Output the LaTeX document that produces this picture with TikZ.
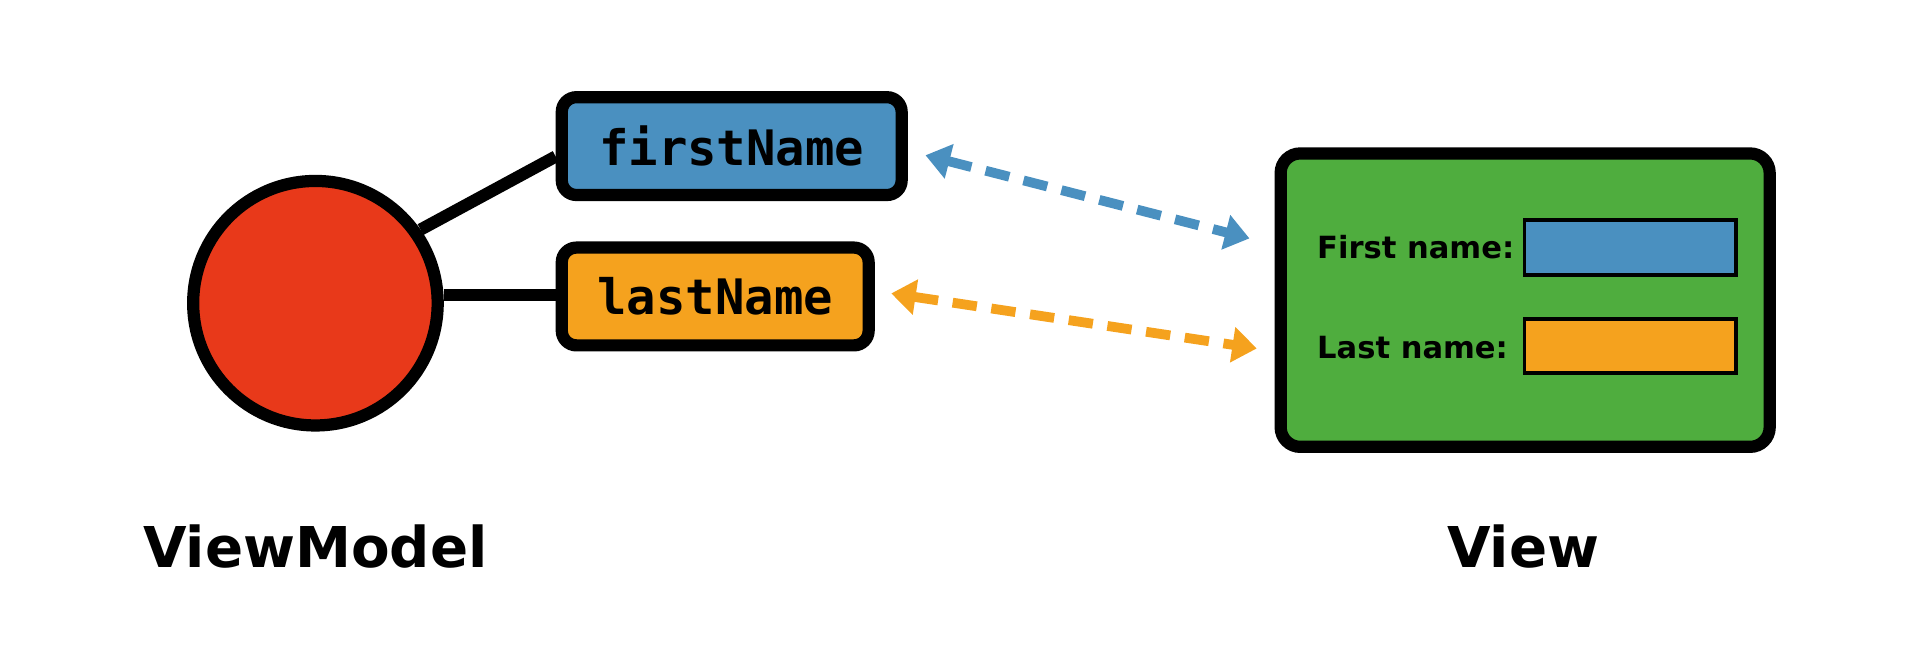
\documentclass[tikz,border=0pt]{standalone}
\usepackage{fontspec}
\setmainfont{DejaVu Sans}
\setmonofont{DejaVu Sans Mono}
\usetikzlibrary{arrows.meta}
\definecolor{cred}{HTML}{E8391A}
\definecolor{cblue}{HTML}{4A90C0}
\definecolor{corange}{HTML}{F5A21E}
\definecolor{cgreen}{HTML}{4FAD3E}
\tikzset{
  varbox/.style={draw=black,line width=5pt,rounded corners=6pt,inner sep=0pt,font=\ttfamily\bfseries\fontsize{20}{20}\selectfont},
  fieldbox/.style={draw=black,line width=1.5pt,inner sep=0pt},
  lbl/.style={font=\bfseries\fontsize{12.5}{13}\selectfont,anchor=west,inner sep=0pt},
  big/.style={font=\bfseries\fontsize{23}{24}\selectfont,inner sep=0pt},
  bind/.style={line width=4pt,dash pattern=on 10pt off 6pt,{Triangle[length=10pt,width=14pt]}-{Triangle[length=10pt,width=14pt]}},
  link/.style={line width=5pt}
}
\begin{document}
\begin{tikzpicture}[x=0.5pt,y=-0.5pt]
\useasboundingbox (0,0) rectangle (1568,546);
\node[draw=black,line width=5pt,fill=cred,circle,minimum size=100pt] (vm) at (258,248) {};
\node[varbox,fill=cblue,minimum width=139pt,minimum height=40pt] (fn) at (598.5,119.5) {firstName};
\node[varbox,fill=corange,minimum width=125.5pt,minimum height=40pt] (ln) at (585,242.5) {lastName};
\draw[link] (vm.35) -- (fn.west|-0,128) coordinate (c1);
\draw[link] (vm.east|-0,241) -- (ln.west|-0,241);
\node[draw=black,line width=5pt,fill=cgreen,rounded corners=8pt,minimum width=200pt,minimum height=120pt,inner sep=0pt] (v) at (1247.5,245.5) {};
\node[lbl] (t1) at (1077,202) {First name:};
\node[fieldbox,fill=cblue,minimum width=86.5pt,minimum height=22.5pt] (f1) at (1333.5,202.5) {};
\node[lbl] (t2) at (1077,284) {Last name:};
\node[fieldbox,fill=corange,minimum width=86.5pt,minimum height=22pt] (f2) at (1333.5,283) {};
\coordinate (a1) at (757,127); \coordinate (b1) at (1022,195);
\coordinate (a2) at (729,240); \coordinate (b2) at (1028,285);
\draw[bind,cblue] (a1) -- (b1);
\draw[bind,corange] (a2) -- (b2);
\node[big] (vml) at (258,447) {ViewModel};
\node[big] (vl) at (1246,447) {View};
\end{tikzpicture}
\end{document}
